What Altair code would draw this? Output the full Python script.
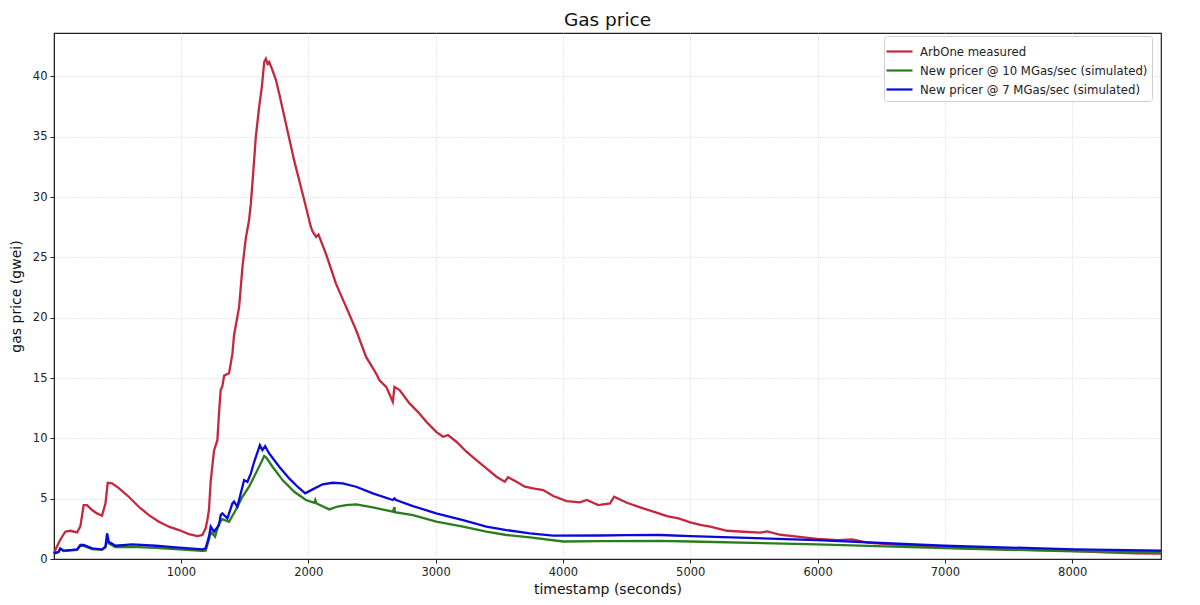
import altair as alt
import pandas as pd

# ---- data ----
red_x = [3, 13, 52, 92, 131, 184, 210, 236, 262, 302, 341, 380, 407, 425, 459, 512, 590, 669,
         748, 827, 906, 984, 1063, 1129, 1168, 1194, 1207, 1220, 1234, 1260, 1286, 1299, 1312,
         1325, 1339, 1378, 1404, 1417, 1443, 1457, 1483, 1509, 1535, 1549, 1567, 1588, 1614,
         1635, 1654, 1667, 1680, 1693, 1719, 1746, 1772, 1824, 1890, 1955, 2021, 2034, 2061,
         2080, 2139, 2218, 2297, 2376, 2454, 2533, 2559, 2612, 2664, 2677, 2717, 2795, 2861,
         2927, 3005, 3058, 3097, 3163, 3242, 3320, 3399, 3478, 3543, 3569, 3635, 3701, 3766,
         3845, 3924, 4029, 4134, 4187, 4278, 4370, 4402, 4502, 4606, 4711, 4817, 4908, 5000,
         5079, 5157, 5289, 5420, 5551, 5604, 5709, 5840, 5997, 6155, 6273, 6391, 6600, 7000,
         7500, 8000, 8255, 8500, 8697]
red_y = [0.45, 0.75, 1.6, 2.26, 2.34, 2.2, 2.7, 4.47, 4.47, 4.06, 3.78, 3.59, 4.6, 6.32, 6.27,
         5.88, 5.16, 4.33, 3.64, 3.09, 2.68, 2.40, 2.07, 1.90, 1.99, 2.54, 3.2, 4.06, 6.5, 9.0,
         9.85, 12.1, 14.0, 14.3, 15.2, 15.4, 17.0, 18.55, 20.07, 20.9, 24.2, 26.56, 28.1, 29.45,
         31.94, 35.0, 37.46, 39.1, 41.2, 41.47, 41.05, 41.2, 40.5, 39.7, 38.57, 36.1, 33.0, 30.3,
         27.5, 27.15, 26.7, 26.9, 25.3, 22.8, 20.9, 18.96, 16.75, 15.38, 14.82, 14.27, 13.03,
         14.27, 14.0, 12.9, 12.2, 11.37, 10.54, 10.13, 10.27, 9.72, 8.89, 8.2, 7.51, 6.82, 6.40,
         6.77, 6.40, 5.99, 5.85, 5.71, 5.22, 4.80, 4.69, 4.89, 4.47, 4.61, 5.16, 4.66, 4.28,
         3.92, 3.55, 3.37, 3.04, 2.82, 2.68, 2.34, 2.26, 2.18, 2.29, 2.01, 1.85, 1.66, 1.57,
         1.63, 1.35, 1.2, 0.95, 0.8, 0.68, 0.55, 0.47, 0.45]

green_x = [3, 39, 52, 79, 144, 184, 210, 236, 302, 380, 407, 420, 433, 486, 617, 801, 984,
           1168, 1194, 1220, 1234, 1268, 1299, 1325, 1378, 1430, 1483, 1535, 1588, 1630, 1654,
           1670, 1719, 1798, 1890, 1982, 2047, 2055, 2065, 2165, 2230, 2297, 2376, 2507, 2664,
           2677, 2680, 2822, 3005, 3215, 3399, 3556, 3740, 4003, 4291, 4764, 5000, 5997, 6995,
           8018, 8697]
green_y = [0.45, 0.58, 0.82, 0.66, 0.72, 0.76, 1.08, 1.08, 0.82, 0.76, 0.96, 1.6, 1.3, 0.98,
           1.0, 0.92, 0.8, 0.68, 0.69, 1.6, 2.26, 1.85, 2.95, 3.3, 3.09, 4.06, 5.16, 5.99, 7.1,
           8.0, 8.53, 8.4, 7.65, 6.54, 5.57, 4.89, 4.66, 4.9, 4.6, 4.11, 4.35, 4.47, 4.53, 4.28,
           3.92, 4.3, 3.88, 3.64, 3.09, 2.68, 2.26, 1.99, 1.79, 1.45, 1.48, 1.5, 1.45, 1.21,
           0.9, 0.63, 0.58]

blue_x = [3, 39, 52, 79, 144, 184, 210, 236, 302, 380, 407, 420, 433, 486, 617, 801, 984,
          1168, 1194, 1220, 1234, 1260, 1299, 1312, 1325, 1365, 1404, 1417, 1443, 1496, 1522,
          1549, 1575, 1620, 1640, 1661, 1693, 1772, 1850, 1916, 1976, 2034, 2113, 2192, 2270,
          2376, 2507, 2664, 2677, 2690, 2822, 3005, 3215, 3399, 3556, 3740, 3924, 4291, 4500,
          4764, 5000, 5997, 6995, 8018, 8697]
blue_y = [0.47, 0.6, 0.88, 0.69, 0.75, 0.8, 1.16, 1.16, 0.88, 0.8, 1.02, 2.13, 1.43, 1.1,
          1.21, 1.1, 0.94, 0.8, 0.88, 1.85, 2.68, 2.26, 2.82, 3.64, 3.78, 3.37, 4.61, 4.75, 4.33,
          6.54, 6.4, 7.1, 8.06, 9.44, 9.03, 9.36, 8.75, 7.65, 6.68, 5.99, 5.44, 5.77, 6.19, 6.32,
          6.27, 5.99, 5.44, 4.89, 5.02, 4.88, 4.39, 3.78, 3.23, 2.68, 2.40, 2.13, 1.93, 1.95,
          1.98, 1.99, 1.9, 1.57, 1.1, 0.8, 0.69]

series_names = ["ArbOne measured",
                "New pricer @ 10 MGas/sec (simulated)",
                "New pricer @ 7 MGas/sec (simulated)"]
series_colors = ["#c4283f", "#2a7d1e", "#0a0ad8"]
x_ticks = [1000, 2000, 3000, 4000, 5000, 6000, 7000, 8000]
y_ticks = [0, 5, 10, 15, 20, 25, 30, 35, 40]

frames = []
for name, xs, ys in zip(series_names, [red_x, green_x, blue_x], [red_y, green_y, blue_y]):
    frames.append(pd.DataFrame({"t": xs, "p": ys, "series": name}))
df = pd.concat(frames, ignore_index=True)

FONT = "DejaVu Sans"

x_enc = alt.X("t:Q", title="timestamp (seconds)",
              scale=alt.Scale(domain=[3, 8697], nice=False, zero=False),
              axis=alt.Axis(values=x_ticks, format="d", labelFontSize=11.5, titleFontSize=14,
                            titlePadding=5, tickSize=4, labelPadding=3,
                            grid=True, gridDash=[1, 2], gridColor="#c8c8c8", gridWidth=0.8,
                            domainColor="#222", tickColor="#222", labelColor="#222",
                            titleColor="#111", titleFontWeight="normal",
                            labelFont=FONT, titleFont=FONT))
y_enc = alt.Y("p:Q", title="gas price (gwei)",
              scale=alt.Scale(domain=[0, 43.6], nice=False),
              axis=alt.Axis(values=y_ticks, labelFontSize=11.5, titleFontSize=14,
                            titlePadding=9, tickSize=4, labelPadding=3,
                            grid=True, gridDash=[1, 2], gridColor="#c8c8c8", gridWidth=0.8,
                            domainColor="#222", tickColor="#222", labelColor="#222",
                            titleColor="#111", titleFontWeight="normal",
                            labelFont=FONT, titleFont=FONT))
color_enc = alt.Color("series:N",
                      scale=alt.Scale(domain=series_names, range=series_colors),
                      legend=alt.Legend(title=None, orient="none", legendX=830, legendY=3,
                                        symbolType="M-1.3,0L1.3,0", symbolSize=400,
                                        symbolStrokeWidth=2.2, labelFontSize=11.7,
                                        labelFont=FONT, labelColor="#222",
                                        rowPadding=-3, padding=4, labelOffset=9,
                                        fillColor="white", strokeColor="#d0d0d0",
                                        cornerRadius=3, labelLimit=400))

layers = []
for name in series_names:
    layers.append(
        alt.Chart(df).transform_filter(alt.datum.series == name)
        .mark_line(strokeWidth=2.3, interpolate="linear")
        .encode(x=x_enc, y=y_enc, color=color_enc, order="t:Q")
    )

chart = alt.layer(*layers).properties(
    width=1107, height=526,
    title=alt.TitleParams("Gas price", fontSize=18.5, font=FONT, fontWeight="normal",
                          color="#111", anchor="middle", offset=4),
    autosize=alt.AutoSizeParams(type="none"),
    padding={"left": 46, "top": 25, "right": 30, "bottom": 38},
).configure_view(stroke="#222", strokeWidth=1.2)

chart.save("out.html", embed_options={"renderer": "svg", "actions": False})
